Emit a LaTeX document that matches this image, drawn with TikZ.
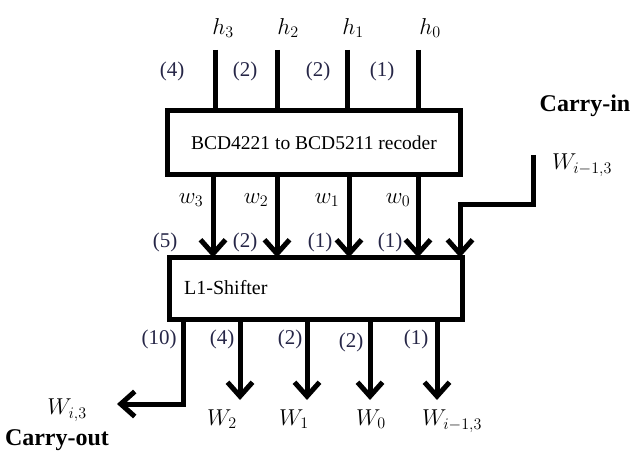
\documentclass[tikz,border=0pt]{standalone}
\usepackage{fix-cm}
\usepackage{fontspec}
\setmainfont{Liberation Serif}
\usetikzlibrary{arrows.meta}
\definecolor{wtcol}{rgb}{0.15,0.15,0.28}
\begin{document}
\begin{tikzpicture}[x=1pt,y=-1pt,
  wire/.style={line width=5pt},
  arr/.style={wire,-{Straight Barb[length=14pt,width=25pt]}},
  blk/.style={draw,line width=5pt,rectangle,outer sep=0pt,inner sep=0pt,fill=white},
  lbl/.style={font=\fontsize{23}{26}\selectfont,inner sep=0pt},
  wt/.style={font=\fontsize{21}{24}\selectfont,inner sep=0pt,text=wtcol},
  boldlbl/.style={font=\fontsize{24}{27}\selectfont\bfseries,inner sep=0pt}]
\useasboundingbox (0,0) rectangle (634,454);

% blocks
\node[blk,minimum width=293pt,minimum height=64pt,font=\fontsize{19.5}{22}\selectfont] (rec) at (314,142.5) {BCD4221 to BCD5211 recoder};
\node[blk,minimum width=293pt,minimum height=62pt] (sh) at (316,288.5) {};
\node[lbl,anchor=west,font=\fontsize{20}{22}\selectfont] (shl) at (184,288) {L1-Shifter};

% input wires
\coordinate (h3t) at (215,50);
\coordinate (h2t) at (277,50);
\coordinate (h1t) at (347,50);
\coordinate (h0t) at (418,50);
\foreach \c in {h3t,h2t,h1t,h0t} \draw[wire] (\c) -- (\c |- rec.north);

\node[lbl] (h3) at (223,28) {$h_3$};
\node[lbl] (h2) at (288,28) {$h_2$};
\node[lbl] (h1) at (353,28) {$h_1$};
\node[lbl] (h0) at (430,28) {$h_0$};

\node[wt] (t4) at (172,71) {(4)};
\node[wt] (t2a) at (245,71) {(2)};
\node[wt] (t2b) at (318,71) {(2)};
\node[wt] (t1) at (382,71) {(1)};

% recoder outputs
\coordinate (w3s) at (213,177);
\coordinate (w2s) at (277,177);
\coordinate (w1s) at (349,177);
\coordinate (w0s) at (418,177);
\foreach \c in {w3s,w2s,w1s,w0s} \draw[arr] (\c |- rec.south) -- (\c |- sh.north);

\node[lbl] (w3) at (191,200) {$w_3$};
\node[lbl] (w2) at (256,200) {$w_2$};
\node[lbl] (w1) at (327,200) {$w_1$};
\node[lbl] (w0) at (398,200) {$w_0$};

\node[wt] (m5) at (165,242) {(5)};
\node[wt] (m2) at (245,242) {(2)};
\node[wt] (m1a) at (320,242) {(1)};
\node[wt] (m1b) at (390,242) {(1)};

% carry in
\coordinate (cit) at (533,155);
\coordinate (cic) at (533,205);
\coordinate (cid) at (460,205);
\draw[arr] (cit) -- (cic) -- (cid) -- (cid |- sh.north);
\node[boldlbl] (cin) at (585,106) {Carry-in};
\node[lbl] (wcin) at (582,165) {$W_{i-1,3}$};

% shifter outputs
\coordinate (o2) at (240,400);
\coordinate (o1) at (307,400);
\coordinate (o0) at (370,400);
\coordinate (om) at (437,400);
\foreach \c in {o2,o1,o0,om} \draw[arr] (\c |- sh.south) -- (\c);

\coordinate (cod) at (183,404);
\coordinate (coe) at (117,404);
\draw[arr] (cod |- sh.south) -- (cod) -- (coe);

\node[wt] (b10) at (159,339) {(10)};
\node[wt] (b4) at (222,339) {(4)};
\node[wt] (b2a) at (290,339) {(2)};
\node[wt] (b2b) at (351,342) {(2)};
\node[wt] (b1) at (416,339) {(1)};

\node[lbl] (W2) at (222,419) {$W_2$};
\node[lbl] (W1) at (294,419) {$W_1$};
\node[lbl] (W0) at (371,419) {$W_0$};
\node[lbl] (Wm) at (452,421) {$W_{i-1,3}$};

\node[lbl] (Wco) at (67,410) {$W_{i,3}$};
\node[boldlbl] (cout) at (57,440) {Carry-out};
\end{tikzpicture}
\end{document}
